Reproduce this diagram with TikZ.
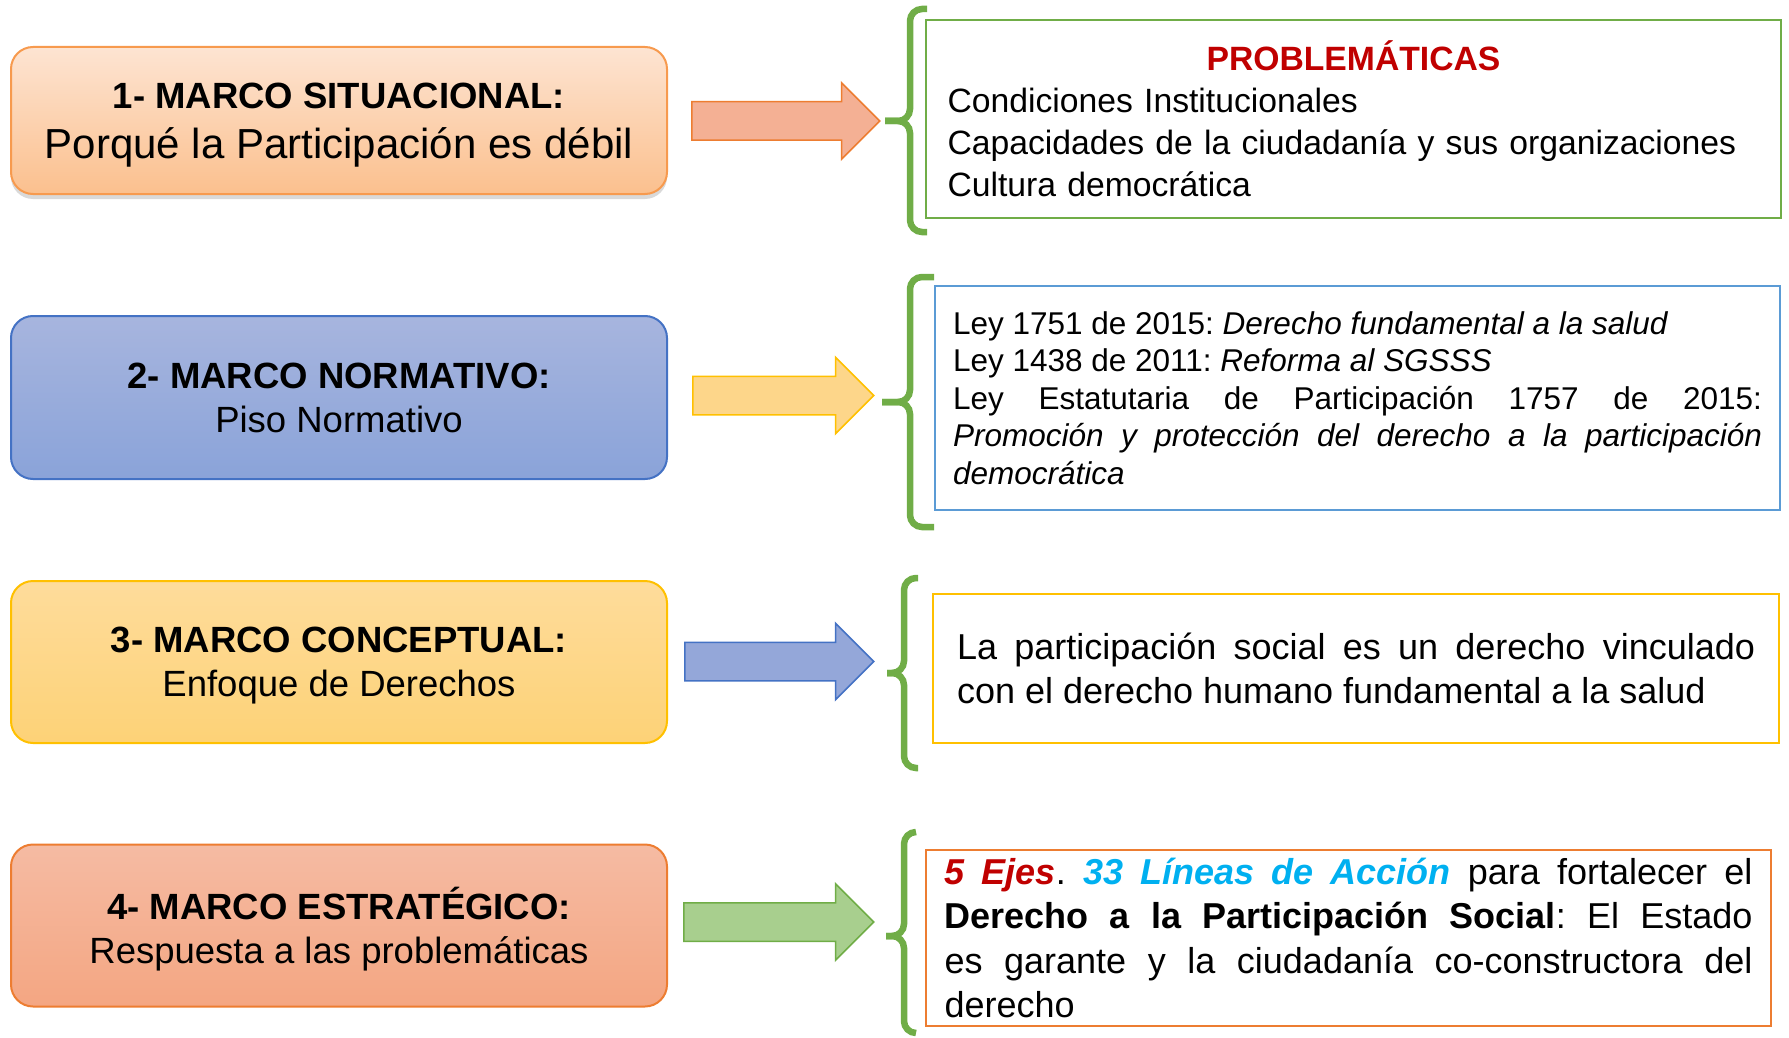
\documentclass[tikz,border=0pt]{standalone}
\usepackage{fontspec}
\setmainfont{Liberation Sans}
\usetikzlibrary{shapes.arrows,shadows}
\frenchspacing

\definecolor{rojo}{HTML}{C00000}
\definecolor{cian}{HTML}{00B0F0}
\definecolor{verde}{HTML}{70AD47}
\definecolor{azul}{HTML}{4472C4}
\definecolor{azulclaro}{HTML}{5B9BD5}
\definecolor{oro}{HTML}{FFC000}
\definecolor{naranja}{HTML}{ED7D31}
\definecolor{naranjaclaro}{HTML}{F79A4E}

\tikzset{
  marco/.style={rounded corners=22pt, minimum width=656pt, align=center,
    line width=2pt, text depth=0pt, font=\fontsize{36.5}{44}\selectfont},
  flecha/.style={single arrow, draw, line width=1.5pt, minimum height=#1,
    minimum width=0pt, inner xsep=0pt, inner ysep=18.5pt,
    single arrow head extend=19pt, anchor=tail},
  cuadro/.style={draw, line width=2.5pt, inner sep=0pt},
  llave/.style={draw=verde, line width=6.5pt, rounded corners=12pt},
}

% llave: x vertical, x gancho, x punta, y arriba, y medio, y abajo
\newcommand{\llave}[6]{%
  \draw[llave] (#2,#4) -- (#1,#4) -- (#1,#5) -- (#3,#5);
  \draw[llave] (#2,#6) -- (#1,#6) -- (#1,#5) -- (#3,#5);
}

\begin{document}
\begin{tikzpicture}[x=1pt,y=-1pt]
  \useasboundingbox (0,0) rectangle (1789,1038);

  % marcos
  \node[marco, draw=naranjaclaro, top color={rgb,255:red,253;green,228;blue,210},
    bottom color={rgb,255:red,251;green,192;blue,142}, minimum height=147pt,
    drop shadow={shadow xshift=0pt, shadow yshift=-5pt, opacity=0.3}] (m1) at (339,120.5)
    {\textbf{1- MARCO SITUACIONAL:}\\[6pt]{\fontsize{42}{50}\selectfont Porqué la Participación es débil}};
  \node[marco, draw=azul, top color={rgb,255:red,167;green,181;blue,222},
    bottom color={rgb,255:red,138;green,163;blue,217}, minimum height=163pt] (m2) at (339,397.5)
    {\textbf{2- MARCO NORMATIVO:}\\Piso Normativo};
  \node[marco, draw=oro, top color={rgb,255:red,254;green,220;blue,155},
    bottom color={rgb,255:red,253;green,210;blue,119}, minimum height=162pt] (m3) at (339,662)
    {\textbf{3- MARCO CONCEPTUAL:}\\Enfoque de Derechos};
  \node[marco, draw=naranja, top color={rgb,255:red,245;green,187;blue,163},
    bottom color={rgb,255:red,244;green,166;blue,130}, minimum height=162pt] (m4) at (339,925.5)
    {\textbf{4- MARCO ESTRATÉGICO:}\\Respuesta a las problemáticas};

  % flechas
  \node[flecha=188pt, draw=naranja, fill={rgb,255:red,244;green,176;blue,148}] (f1) at (691,121) {};
  \node[flecha=181pt, draw=oro, fill={rgb,255:red,253;green,214;blue,138}] (f2) at (692,395.5) {};
  \node[flecha=189pt, draw=azul, fill={rgb,255:red,148;green,167;blue,217}] (f3) at (684,661.5) {};
  \node[flecha=190pt, draw=verde, fill={rgb,255:red,168;green,207;blue,142}] (f4) at (683,922) {};

  % llaves
  \llave{910}{927}{885}{9}{121}{232}
  \llave{910}{934}{882}{277}{402}{527}
  \llave{904}{918}{887}{578}{673}{768}
  \llave{904}{916}{886}{832}{936}{1033}

  % cuadros de texto
  \node[cuadro, draw=verde, minimum width=855pt, minimum height=198pt, text width=812pt,
    align=left, font=\fontsize{33.7}{42}\selectfont] (p1) at (1353.5,119)
    {\makebox[\linewidth]{\color{rojo}\bfseries PROBLEMÁTICAS}\\
     Condiciones Institucionales\\
     Capacidades de la ciudadanía y sus organizaciones\\
     Cultura democrática};
  \node[cuadro, draw=azulclaro, minimum width=845pt, minimum height=224pt, text width=809pt,
    align=justify, font=\fontsize{31.5}{37.5}\selectfont] (p2) at (1357.5,398)
    {Ley 1751 de 2015: \textit{Derecho fundamental a la salud}\\
     Ley 1438 de 2011: \textit{Reforma al SGSSS}\\
     Ley Estatutaria de Participación 1757 de 2015: \linebreak
     \textit{Promoción y protección del derecho a la participación} \linebreak
     \textit{democrática}};
  \node[cuadro, draw=oro, minimum width=846pt, minimum height=149pt, text width=798pt,
    align=justify, font=\fontsize{36}{44.5}\selectfont] (p3) at (1356,668.5)
    {La participación social es un derecho vinculado \linebreak
     con el derecho humano fundamental a la salud};
  \node[cuadro, draw=naranja, minimum width=845pt, minimum height=176pt, text width=808pt,
    align=justify, font=\fontsize{36}{44.5}\selectfont] (p4) at (1348.5,938)
    {{\color{rojo}\bfseries\itshape 5 Ejes}. {\color{cian}\bfseries\itshape 33 Líneas de Acción} para fortalecer el \linebreak
     \textbf{Derecho a la Participación Social}: El Estado \linebreak
     es garante y la ciudadanía co-constructora del \linebreak
     derecho};
\end{tikzpicture}
\end{document}
